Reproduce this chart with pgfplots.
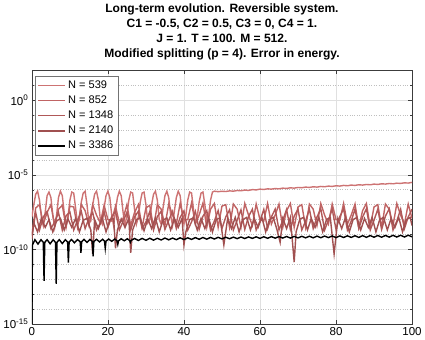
\documentclass[border=0pt]{standalone}
\usepackage{fontspec}
\setmainfont{Liberation Sans}
\usepackage{pgfplots}
\pgfplotsset{compat=1.18}

\definecolor{cA}{RGB}{205,115,115}
\definecolor{cB}{RGB}{192,100,100}
\definecolor{cC}{RGB}{176,88,88}
\definecolor{cD}{RGB}{160,80,80}
\definecolor{frame}{RGB}{60,60,60}

\begin{document}
\begin{tikzpicture}
\begin{axis}[
    scale only axis,
    width=379pt, height=253pt,
    xmin=0, xmax=100,
    ymode=log, ymin=1e-15, ymax=1e2,
    xtick={0,20,...,100},
    ytick={1e-15,1e-10,1e-5,1},
    yticklabels={10\textsuperscript{-15},10\textsuperscript{-10},10\textsuperscript{-5},10\textsuperscript{0}},
    minor ytick={1e-14,1e-13,1e-12,1e-11,1e-9,1e-8,1e-7,1e-6,1e-4,1e-3,1e-2,1e-1,10},
    /pgf/number format/assume math mode=true,
    tick align=inside,
    xtick pos=both, ytick pos=both,
    major tick length=4pt, minor tick length=2.5pt,
    every tick/.style={frame},
    axis line style={frame},
    grid=both,
    major grid style={black!12, line width=0.5pt},
    minor grid style={black!25, dotted, line width=0.5pt},
    tick label style={font=\fontsize{11.5}{13}\selectfont},
    title={Long-term evolution. Reversible system.\\C1 = -0.5, C2 = 0.5, C3 = 0, C4 = 1.\\J = 1. T = 100. M = 512.\\Modified splitting (p = 4). Error in energy.},
    title style={font=\bfseries\fontsize{12}{15}\selectfont, align=center, yshift=1pt},
    legend style={at={(0.008,0.976)}, anchor=north west, draw=black!55,
        font=\fontsize{11}{13}\selectfont, row sep=1.8pt, inner sep=2.5pt},
    legend cell align=left,
    legend image code/.code={\draw[#1] (0pt,0pt) -- (27pt,0pt);},
]
\addplot[cA, line width=1.4pt] coordinates {
(0,1.5e-8)(0.5,1e-7)(1,5e-7)(1.5,8e-7)(2,2e-7)(2.5,1.5e-8)(3,4e-9)(3.5,3e-8)(4,4e-7)(4.5,7e-7)
(5,3e-7)(5.5,2e-8)(6,3e-9)(6.5,2e-8)(7,3e-7)(7.5,8e-7)(8,4e-7)(8.5,3e-8)(9,4e-9)(9.5,1.5e-8)
(10,2e-7)(10.5,7e-7)(11,6e-7)(11.5,6e-8)(12,5e-9)(12.5,1e-8)(13,1.5e-7)(13.5,6e-7)(14,8e-7)(14.5,1e-7)
(15,6e-9)(15.5,8e-9)(16,1e-7)(16.5,5e-7)(17,8e-7)(17.5,2e-7)(18,1e-8)(18.5,5e-9)(19,6e-8)(19.5,4e-7)
(20,8e-7)(20.5,3e-7)(21,2e-8)(21.5,4e-9)(22,4e-8)(22.5,3e-7)(23,8e-7)(23.5,4e-7)(24,3e-8)(24.5,4e-9)
(25,2e-8)(25.5,2e-7)(26,7e-7)(26.5,6e-7)(27,5e-8)(27.5,5e-9)(28,1.5e-8)(28.5,1.5e-7)(29,6e-7)(29.5,7e-7)
(30,1e-7)(30.5,6e-9)(31,1e-8)(31.5,1e-7)(32,5e-7)(32.5,8e-7)(33,2e-7)(33.5,1e-8)(34,5e-9)(34.5,6e-8)
(35,4e-7)(35.5,8e-7)(36,3e-7)(36.5,2e-8)(37,4e-9)(37.5,4e-8)(38,3e-7)(38.5,8e-7)(39,4e-7)(39.5,3e-8)
(40,5e-9)(40.5,2e-8)(41,2e-7)(41.5,7e-7)(42,6e-7)(42.5,5e-8)(43,6e-9)(43.5,1.5e-8)(44,1.5e-7)(44.5,6e-7)
(45,7e-7)(45.5,1e-7)(46,1e-8)(46.5,2e-8)(47,2e-7)(47.5,7e-7)(48,8e-7)(49,7.4e-7)
(50,7.9e-7)(51,7.6e-7)(52,8.4e-7)(53,8e-7)(54,8.9e-7)(55,8.5e-7)(56,9.5e-7)(57,9e-7)(58,1.02e-6)(59,9.7e-7)
(60,1.1e-6)(61,1.04e-6)(62,1.15e-6)(63,1.1e-6)(64,1.2e-6)(65,1.15e-6)(66,1.28e-6)(67,1.22e-6)(68,1.35e-6)(69,1.28e-6)
(70,1.42e-6)(71,1.36e-6)(72,1.5e-6)(73,1.43e-6)(74,1.58e-6)(75,1.5e-6)(76,1.66e-6)(77,1.58e-6)(78,1.75e-6)(79,1.67e-6)
(80,1.85e-6)(81,1.76e-6)(82,1.95e-6)(83,1.85e-6)(84,2.05e-6)(85,1.95e-6)(86,2.15e-6)(87,2.05e-6)(88,2.25e-6)(89,2.15e-6)
(90,2.38e-6)(91,2.27e-6)(92,2.5e-6)(93,2.4e-6)(94,2.62e-6)(95,2.5e-6)(96,2.75e-6)(97,2.65e-6)(98,2.9e-6)(99,2.8e-6)(100,3.1e-6)
};
\addlegendentry{N = 539}
\addplot[cB, line width=1.4pt] coordinates {
(0,1e-9)(1,6e-8)(2,1e-7)(3,5e-9)(4,3e-8)(5,1e-7)(6,4e-9)(7,5e-8)(8,9e-8)(9,3e-9)
(10,8e-8)(11,7e-8)(12,3e-9)(13,1e-7)(14,4e-8)(15,4e-9)(16,1e-7)(17,2e-8)(18,6e-9)(19,9e-8)
(20,1e-8)(21,8e-9)(22,8e-8)(23,6e-9)(24,1.2e-8)(25,1e-7)(26,4e-9)(27,3e-8)(28,1e-7)(29,3e-9)
(30,6e-8)(31,9e-8)(32,3e-9)(33,1e-7)(34,5e-8)(35,4e-9)(36,1.1e-7)(37,2e-8)(38,5e-9)(39,1.2e-7)
(40,1e-8)(41,1e-8)(42,1.3e-7)(43,5e-9)(44,2e-8)(45,1.3e-7)(46,3e-9)(47,5e-8)(48,1.2e-7)(49,3e-9)
(50,8e-8)(51,1e-7)(52,3e-9)(53,1.1e-7)(54,5e-8)(55,3e-9)(56,1.2e-7)(57,2e-8)(58,4e-9)(59,1.1e-7)
(60,1e-8)(61,8e-9)(62,1.2e-7)(63,5e-9)(64,2e-8)(65,1.1e-7)(66,3e-9)(67,4e-8)(68,1.2e-7)(69,3e-9)
(70,7e-8)(71,1e-7)(72,3e-9)(73,1.1e-7)(74,5e-8)(75,4e-9)(76,1.2e-7)(77,2e-8)(78,5e-9)(79,1.1e-7)
(80,1e-8)(81,9e-9)(82,1.2e-7)(83,5e-9)(84,2e-8)(85,1.1e-7)(86,3e-9)(87,4e-8)(88,1.2e-7)(89,3e-9)
(90,7e-8)(91,1e-7)(92,3e-9)(93,1.1e-7)(94,5e-8)(95,4e-9)(96,1.2e-7)(97,2e-8)(98,5e-9)(99,1.1e-7)(100,1.2e-8)
};
\addlegendentry{N = 852}
\addplot[cC, line width=1.4pt] coordinates {
(0,8e-10)(1,3e-8)(2,2e-9)(3,1.5e-8)(4,3.5e-8)(5,2.5e-9)(6,7e-9)(7,3e-8)(8,2e-9)(9,1.8e-8)
(10,3.2e-8)(11,2e-9)(12,9e-9)(13,3.5e-8)(14,2.5e-9)(15,1.2e-8)(16,3e-8)(17,2e-9)(18,6e-9)(19,3.3e-8)
(20,3e-9)(21,1.6e-8)(22,3.5e-8)(23,2e-9)(24,8e-9)(25,3e-8)(26,2e-9)(27,1.5e-8)(28,3.6e-8)(29,2.5e-9)
(30,7e-9)(31,3.4e-8)(32,2e-9)(33,1.6e-8)(34,3.5e-8)(35,2.2e-9)(36,9e-9)(37,3.5e-8)(38,2.5e-9)(39,1.4e-8)
(40,3.8e-8)(41,2e-9)(42,7e-9)(43,3.6e-8)(44,2.2e-9)(45,1.7e-8)(46,4e-8)(47,2e-9)(48,8e-9)(49,4e-8)
(50,2.5e-9)(51,1.5e-8)(52,4.5e-8)(53,2e-9)(54,9e-9)(55,4.5e-8)(56,2.2e-9)(57,1.6e-8)(58,5e-8)(59,2e-9)
(60,8e-9)(61,4.8e-8)(62,2.5e-9)(63,1.5e-8)(64,5e-8)(65,2e-9)(66,9e-9)(67,4.8e-8)(68,2.2e-9)(69,1.7e-8)
(70,5e-8)(71,2e-9)(72,8e-9)(73,5e-8)(74,2.5e-9)(75,1.5e-8)(76,5.2e-8)(77,2e-9)(78,9e-9)(79,5e-8)
(80,2.2e-9)(81,1.6e-8)(82,5.2e-8)(83,2e-9)(84,8e-9)(85,5e-8)(86,2.5e-9)(87,1.5e-8)(88,5.3e-8)(89,2e-9)
(90,9e-9)(91,5e-8)(92,2.2e-9)(93,1.7e-8)(94,5.3e-8)(95,2e-9)(96,8e-9)(97,5e-8)(98,2.5e-9)(99,1.5e-8)(100,5e-8)
};
\addlegendentry{N = 1348}
\addplot[cD, line width=1.4pt] coordinates {
(0,5e-10)(0.5,6e-9)(1.5,1.5e-9)(2.5,1.2e-8)(3.5,3e-9)(4.5,1e-8)(5.5,1.5e-9)(6.5,8e-9)(7.5,1.2e-8)(8.5,2e-9)
(9.5,1.1e-8)(10.5,3e-9)(11.5,1.2e-8)(12.5,1.5e-9)(13.5,9e-9)(14.5,1.2e-8)(15.5,2e-9)(16,5e-11)(16.5,1e-8)(17.5,2.5e-9)
(18.5,1.3e-8)(19.5,1.5e-9)(20.5,1e-8)(21.5,1.2e-8)(22,1.2e-10)(22.5,2e-9)(23.5,1.1e-8)(24.5,3e-9)(25.5,1.2e-8)(26,6e-11)
(26.5,2e-9)(27.5,1e-8)(28.5,1.3e-8)(29.5,1.8e-9)(30.5,1.1e-8)(31.5,2.5e-9)(32.5,1.3e-8)(33.5,1.5e-9)(34.5,9e-9)(35.5,1.3e-8)
(36.5,2e-9)(37.5,1.2e-8)(38.5,3e-9)(39.5,1.2e-8)(40,2e-10)(40.5,1.5e-9)(41.5,1e-8)(42.5,1.3e-8)(43.5,2e-9)(44.5,1.2e-8)
(45.5,2.5e-9)(46.5,1.3e-8)(47.5,1.5e-9)(48.5,1e-8)(49.5,1.3e-8)(50.5,2e-10)(51.5,1.2e-8)(52.5,2.5e-9)(53.5,1.4e-8)(54.5,1.5e-9)
(55.5,1e-8)(56.5,1.4e-8)(57.5,2e-9)(58.5,1.2e-8)(59.5,3e-9)(60.5,1.4e-8)(61.5,1.5e-9)(62.5,1e-8)(63.5,1.4e-8)(64.5,2e-9)
(65.3,3e-10)(66,1.2e-8)(67,2.5e-9)(68,1.4e-8)(69,1.4e-11)(69.5,1.5e-9)(70.5,1.1e-8)(71.5,1.4e-8)(72.5,2e-9)(73.5,1.2e-8)
(74.5,3e-9)(75.5,1.4e-8)(76.5,1.5e-9)(77.5,1e-8)(78.5,1.4e-8)(79.5,5e-11)(80.5,1.2e-8)(81.5,2.5e-9)(82.5,1.4e-8)(83.5,1.5e-9)
(84.5,1e-8)(85.5,1.4e-8)(86.5,2e-9)(87.5,1.2e-8)(88.5,3e-9)(89.5,1.4e-8)(90.5,1.5e-9)(91.5,1e-8)(92.5,1.4e-8)(93.5,2e-9)
(94.5,1.2e-8)(95.5,3e-9)(96.5,1.4e-8)(97.5,1.5e-9)(98.5,1e-8)(99.5,1.4e-8)(100,4e-9)
};
\addlegendentry{N = 2140}
\addplot[black, line width=1.4pt] coordinates {
(0,1e-15)(0.15,2e-10)(0.8,4.5e-10)(1.6,2.3e-10)(2.4,4.5e-10)(3.0,3e-10)(3.2,8e-13)(3.4,3e-10)(4.0,4.5e-10)(4.8,2.4e-10)
(5.6,4.5e-10)(6.2,3e-10)(6.4,5e-13)(6.6,3e-10)(7.2,4.5e-10)(8.0,2.5e-10)(8.8,4.5e-10)(9.4,3.2e-10)(9.6,1.3e-11)(9.8,3.2e-10)
(10.4,4.6e-10)(11.2,2.8e-10)(12.0,4.6e-10)(12.7,3.3e-10)(12.9,6e-11)(13.1,3.3e-10)(13.7,4.7e-10)(14.5,3e-10)(15.3,4.7e-10)(15.9,3.4e-10)
(16.1,3.5e-11)(16.3,3.4e-10)(17.0,4.8e-10)(17.8,3.2e-10)(18.6,4.8e-10)(19.1,3.6e-10)(19.3,1.2e-10)(19.5,3.6e-10)(20.2,5e-10)(21.0,3.5e-10)
(21.8,5e-10)(22.4,3.8e-10)(22.6,2.2e-10)(22.8,3.8e-10)(23.5,5.2e-10)(24.3,3.8e-10)(25.1,5.2e-10)(25.7,4e-10)(25.9,3e-10)(26.1,4e-10)
(27,5.4e-10)(28,4e-10)(29,5.5e-10)(30,4.1e-10)(31,5.6e-10)(32,4.2e-10)(33,5.6e-10)(34,4.3e-10)(35,5.8e-10)(36,4.4e-10)
(37,5.8e-10)(38,4.5e-10)(39,6e-10)(40,4.6e-10)(41,6e-10)(42,4.7e-10)(43,6.2e-10)(44,4.8e-10)(45,6.3e-10)(46,4.9e-10)
(47,6.4e-10)(48,5e-10)(49,6.5e-10)(50,5.1e-10)(51,6.6e-10)(52,5.2e-10)(53,6.7e-10)(54,5.3e-10)(55,6.8e-10)(56,5.4e-10)
(57,6.9e-10)(58,5.5e-10)(59,7e-10)(60,5.5e-10)(61,7.1e-10)(62,5.6e-10)(63,7.2e-10)(64,5.7e-10)(65,7.3e-10)(66,5.8e-10)
(67,7.4e-10)(68,5.8e-10)(69,7.5e-10)(70,5.9e-10)(71,7.6e-10)(72,6e-10)(73,7.7e-10)(74,6e-10)(75,7.8e-10)(76,6.1e-10)
(77,7.9e-10)(78,6.2e-10)(79,8e-10)(80,6.2e-10)(81,8.1e-10)(82,6.3e-10)(83,8.2e-10)(84,6.4e-10)(85,8.3e-10)(86,6.4e-10)
(87,8.4e-10)(88,6.5e-10)(89,8.5e-10)(90,6.6e-10)(91,8.6e-10)(92,6.6e-10)(93,8.7e-10)(94,6.7e-10)(95,8.8e-10)(96,6.8e-10)
(97,8.9e-10)(98,6.8e-10)(99,9e-10)(100,7e-10)
};
\addlegendentry{N = 3386}
\end{axis}
\end{tikzpicture}
\end{document}
